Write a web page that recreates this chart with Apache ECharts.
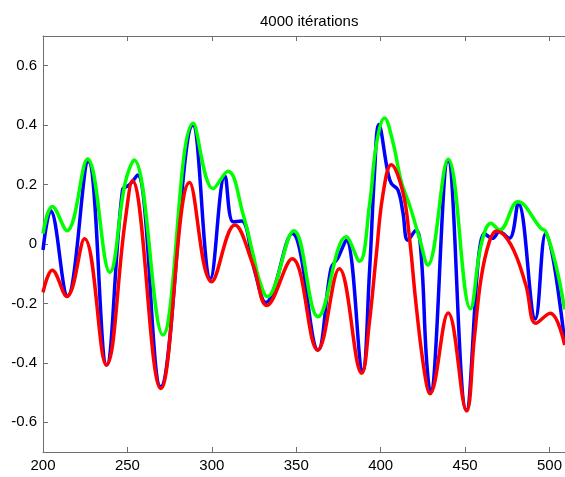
<!DOCTYPE html>
<html><head><meta charset="utf-8">
<script src="https://cdn.jsdelivr.net/npm/echarts@6/dist/echarts.min.js"></script>
<style>html,body{margin:0;padding:0;background:#fff;overflow:hidden}#c{width:565px;height:477px}</style>
</head><body><div id="c"></div>
<script>
const titleText = '4000 itérations';
const xTicks = [200, 250, 300, 350, 400, 450, 500];
const yTicks = [-0.6, -0.4, -0.2, 0, 0.2, 0.4, 0.6];

const blueData = [
  [200,-0.02],[204.5,0.112],[214.5,-0.175],[226.8,0.278],[237.7,-0.407],[247.1,0.182],[251.2,0.199],[256,0.232],
  [269.7,-0.48],[288.8,0.4],[299.2,-0.116],[307.7,0.23],[312.6,0.075],[317.6,0.077],[325.5,-0.093],[332,-0.197],[347.6,0.035],
  [362.9,-0.357],[370.6,-0.082],[374.6,-0.048],[379.6,0.013],[389.3,-0.425],[393.4,-0.093],[396.4,0.243],[398.9,0.402],
  [404.2,0.243],[406.3,0.204],[410.2,0.182],[413.1,0.109],[416.1,0.013],[421,0.047],[424,-0.037],[427,-0.374],
  [429.4,-0.502],[439.9,0.28],[450.8,-0.559],[461.4,0.036],[466.3,0.019],[470.3,0.041],
  [476.2,0.019],[481.5,0.137],[491.6,-0.252],[497.8,0.036],[509,-0.33]
];
const greenData = [
  [200,0.035],[205.5,0.126],[214.2,0.045],[226.4,0.286],[239.6,-0.095],[248.6,0.204],[254,0.283],[271,-0.306],
  [289,0.406],[300.8,0.186],[309.5,0.245],[318.6,0.098],[324.5,-0.037],[328.4,-0.127],[332.8,-0.177],[348.6,0.045],[362.9,-0.245],
  [379.6,0.024],[387.5,-0.058],[393.4,0.131],[397.4,0.333],[402.3,0.424],[407.2,0.344],[412.2,0.21],[417.1,0.131],
  [423,0.019],[427.9,-0.071],[440,0.285],[453.2,-0.218],
  [459.5,-0.003],[465.4,0.07],[470.5,0.047],[481.3,0.142],[494.9,0.053],[497.9,0.041],[503.8,-0.071],[509,-0.22]
];
const redData = [
  [200,-0.163],[205.5,-0.088],[214.1,-0.177],[224.6,0.018],[237.5,-0.407],[248.6,0.075],[252.9,0.213],[269.8,-0.486],
  [286.8,0.207],[299.9,-0.127],[313.6,0.064],[324.5,-0.071],[332.5,-0.207],[347.6,-0.05],[362.7,-0.357],[375.5,-0.083],[388.8,-0.435],
  [393.4,-0.26],[397.4,-0.037],[401.3,0.165],[406.3,0.267],[413.1,0.176],[417.1,0.019],[421,-0.205],[425.9,-0.43],
  [429.2,-0.504],[440,-0.232],[450.9,-0.562],[455.5,-0.316],
  [459.5,-0.115],[464.4,0.008],[468.5,0.044],[477.2,-0.003],[486,-0.138],[491.9,-0.267],[500.4,-0.233],[509,-0.34]
];

const font = '"Liberation Sans", Arial, Helvetica, sans-serif';
const axisColor = '#6f6f6f';
const chart = echarts.init(document.getElementById('c'), null, {renderer: 'canvas'});

function lineSeries(data, color) {
  return {
    type: 'line', data: data, showSymbol: false, smooth: 0.4,
    lineStyle: {color: color, width: 3.5}, itemStyle: {color: color},
    clip: true, silent: true
  };
}

chart.setOption({
  animation: false,
  backgroundColor: '#fff',
  title: {
    text: titleText, left: 255, top: 9,
    textStyle: {fontSize: 15, fontWeight: 'normal', color: '#000', fontFamily: font}
  },
  grid: {left: 43, right: 0, top: 36, bottom: 25},
  xAxis: [
    {
      type: 'value', min: 200, max: 509, position: 'bottom',
      axisLine: {show: true, onZero: false, lineStyle: {color: axisColor, width: 1}},
      axisTick: {show: true, inside: true, length: 5, customValues: xTicks, lineStyle: {color: axisColor}},
      axisLabel: {customValues: xTicks, color: '#000', fontSize: 15, fontFamily: font, margin: 6},
      splitLine: {show: false}
    },
    {
      type: 'value', min: 200, max: 509, position: 'top',
      axisLine: {show: true, onZero: false, lineStyle: {color: axisColor, width: 1}},
      axisTick: {show: true, inside: true, length: 5, customValues: xTicks, lineStyle: {color: axisColor}},
      axisLabel: {show: false},
      splitLine: {show: false}
    }
  ],
  yAxis: {
    type: 'value', min: -0.7, max: 0.7,
    axisLine: {show: true, onZero: false, lineStyle: {color: axisColor, width: 1}},
    axisTick: {show: true, inside: true, length: 5, customValues: yTicks, lineStyle: {color: axisColor}},
    axisLabel: {customValues: yTicks, color: '#000', fontSize: 15, fontFamily: font, margin: 6},
    splitLine: {show: false}
  },
  series: [
    lineSeries(blueData, '#0000ff'),
    lineSeries(greenData, '#00ff00'),
    lineSeries(redData, '#ff0000')
  ]
});
</script></body></html>
